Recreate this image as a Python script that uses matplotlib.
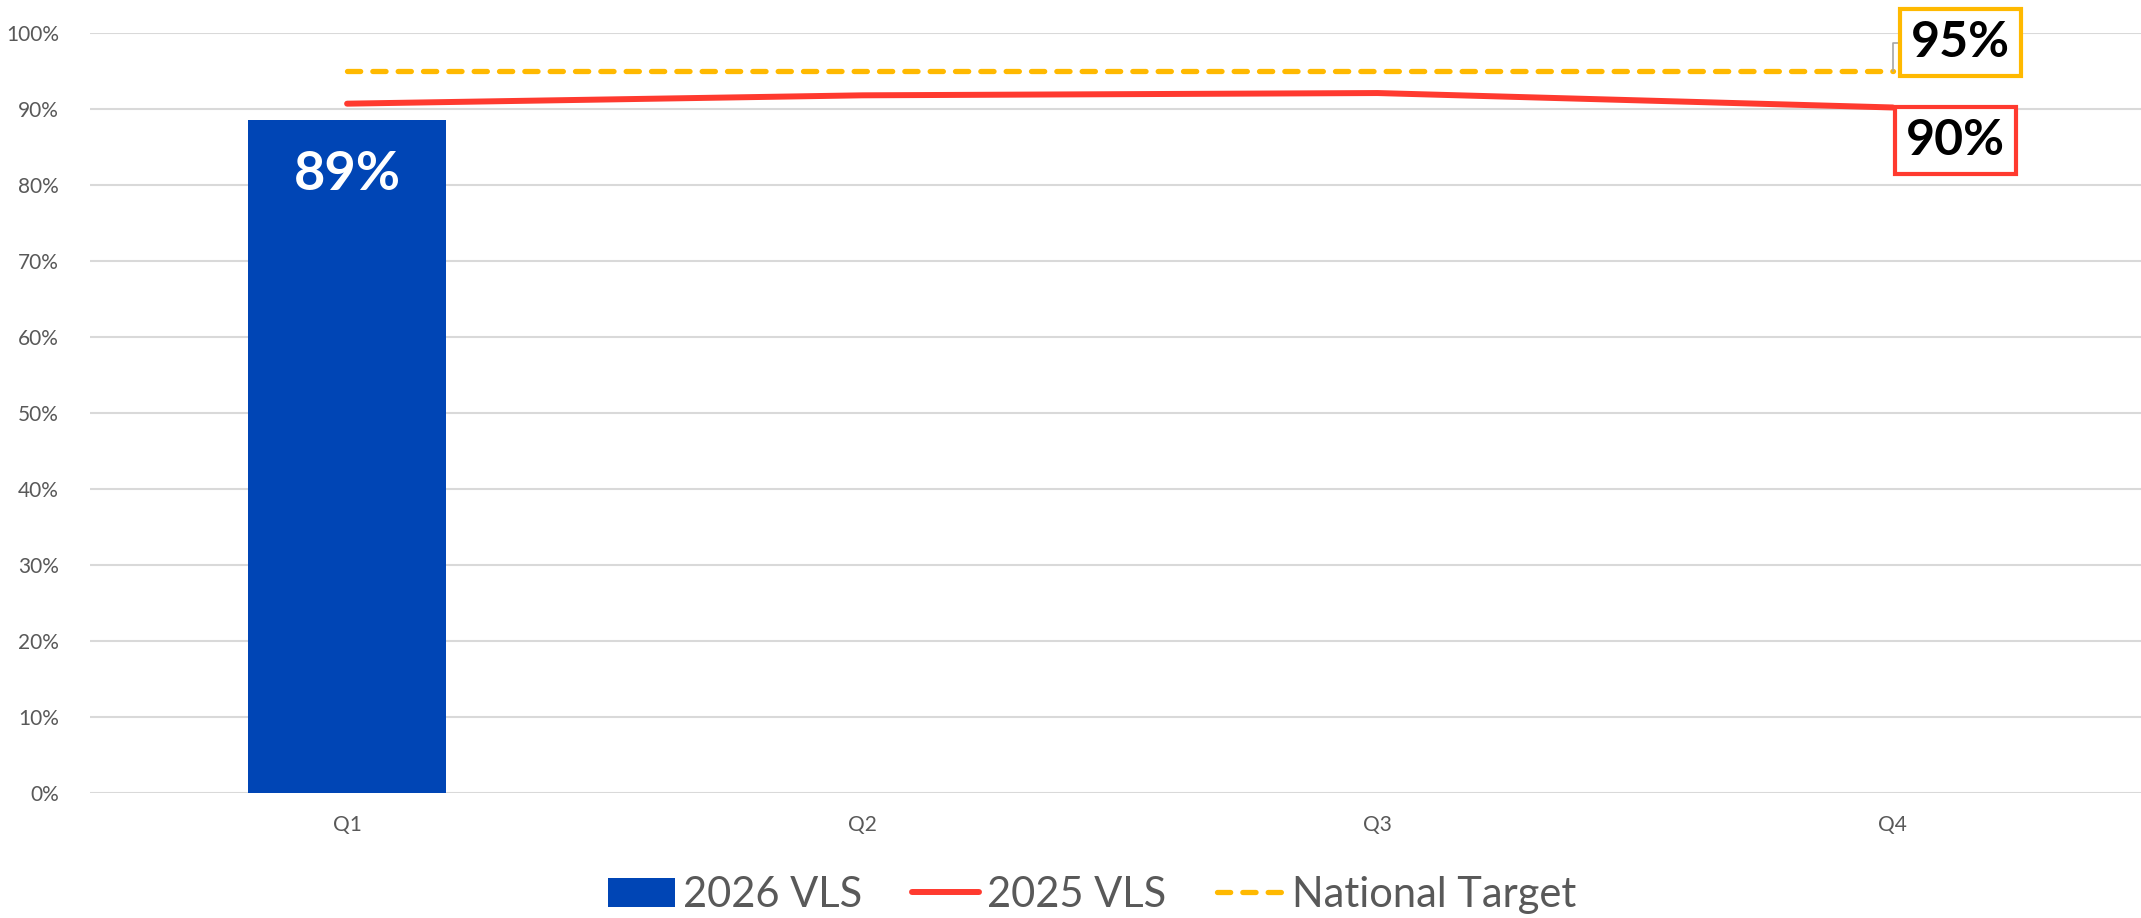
import matplotlib
matplotlib.use('Agg')
import matplotlib.pyplot as plt
from matplotlib.ticker import PercentFormatter

plt.rcParams['font.family'] = ['Lato', 'DejaVu Sans']

# data
quarters = ['Q1', 'Q2', 'Q3', 'Q4']
vls_2026 = [0.886]
vls_2025 = [0.907, 0.918, 0.921, 0.902]
national_target = [0.95, 0.95, 0.95, 0.95]

BLUE = '#0045B5'
RED = '#FF3A2F'
ORANGE = '#FFB900'
GREY_TXT = '#595959'
GRID = '#D9D9D9'

fig = plt.figure(figsize=(21.41, 9.18), dpi=100)
ax = fig.add_axes([89.5 / 2141, 125 / 918, (2141 - 89.5) / 2141, 760 / 918])

x = list(range(len(quarters)))
bars = ax.bar(x[:len(vls_2026)], vls_2026, width=0.385, color=BLUE, label='2026 VLS', zorder=2)
l25, = ax.plot(x, vls_2025, color=RED, lw=4.3, solid_capstyle='round', label='2025 VLS', zorder=3)
ltg, = ax.plot(x, national_target, color=ORANGE, lw=3.8, linestyle=(0, (2.5, 2.3)),
               dash_capstyle='round', label='National Target', zorder=3)

# bar label
for b, v in zip(bars, vls_2026):
    ax.text(b.get_x() + b.get_width() / 2, v - 0.072, f'{v:.0%}', ha='center', va='center',
            color='white', fontsize=39, fontweight='bold', zorder=4)

# end labels with boxes
ax.annotate(f'{national_target[-1]:.0%}', xy=(x[-1], national_target[-1]), xytext=(3.131, 0.987),
            ha='center', va='center', fontsize=36, fontweight='bold', color='black',
            bbox=dict(boxstyle='square,pad=0.22', facecolor='white', edgecolor=ORANGE, linewidth=3),
            arrowprops=dict(arrowstyle='-', color='#A6A6A6', lw=1.2,
                            connectionstyle='angle,angleA=0,angleB=90,rad=0',
                            shrinkA=0, shrinkB=0),
            annotation_clip=False, zorder=5)
ax.annotate(f'{vls_2025[-1]:.0%}', xy=(x[-1], vls_2025[-1]), xytext=(3.121, 0.859),
            ha='center', va='center', fontsize=36, fontweight='bold', color='black',
            bbox=dict(boxstyle='square,pad=0.22', facecolor='white', edgecolor=RED, linewidth=3),
            annotation_clip=False, zorder=5)

ax.set_xlim(-0.5, -0.5 + (2141 - 89.5) / 515.2)
ax.set_ylim(0, 1)
ax.set_xticks(x)
ax.set_xticklabels(quarters)
ax.set_yticks([i / 10 for i in range(11)])
ax.yaxis.set_major_formatter(PercentFormatter(1.0, decimals=0))
ax.tick_params(axis='both', length=0, labelsize=15, labelcolor=GREY_TXT)
ax.tick_params(axis='y', pad=22)
ax.tick_params(axis='x', pad=16)
ax.grid(axis='y', color=GRID, lw=1.5, zorder=0)
ax.set_axisbelow(True)
for s in ax.spines.values():
    s.set_visible(False)

fig.legend(handles=[bars, l25, ltg], loc='center', bbox_to_anchor=(1092 / 2141, 23 / 918), ncol=3,
           frameon=False, fontsize=30, labelcolor=GREY_TXT, handlelength=1.6, handletextpad=0.2,
           columnspacing=1.2, borderaxespad=0, borderpad=0)

fig.savefig('out.png', dpi=100)
